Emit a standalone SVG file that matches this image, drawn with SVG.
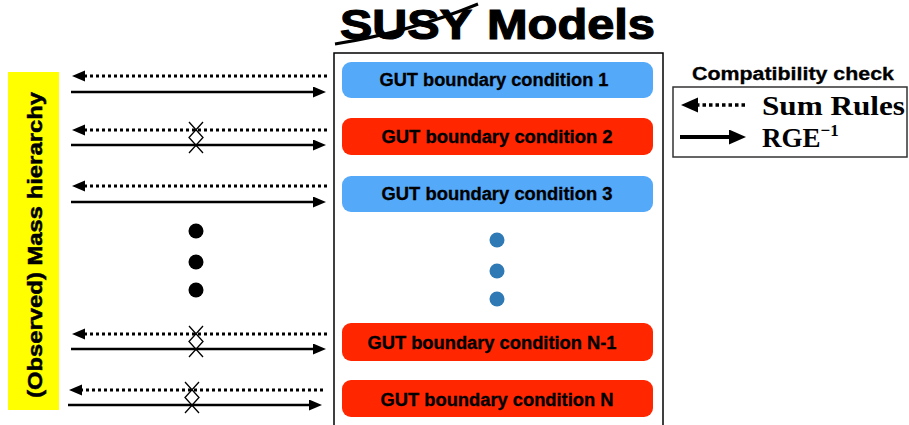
<svg xmlns="http://www.w3.org/2000/svg" width="909" height="425" viewBox="0 0 909 425">
<style>
.node-b{fill:#55A9F9;}
.node-r{fill:#FF2600;}
.lbl{font-family:"Liberation Sans",Arial,sans-serif;font-weight:bold;font-size:18px;fill:#000;text-anchor:middle;stroke:#000;stroke-width:0.3;}
.dot{stroke:#000;stroke-width:3;stroke-dasharray:3 3;fill:none;}
.sol{stroke:#000;stroke-width:2.5;fill:none;}
.cross{stroke:#000;stroke-width:1.3;fill:none;}
.serif{font-family:"Liberation Serif","Times New Roman",serif;font-weight:bold;fill:#000;}
.heavy{font-family:"Liberation Sans",Arial,sans-serif;font-weight:bold;fill:#000;stroke:#000;}
</style>
<defs>
<marker id="ah" markerUnits="userSpaceOnUse" markerWidth="14" markerHeight="12" refX="4" refY="5.5" orient="auto" viewBox="0 0 14 12">
<path d="M0,0 L13,5.5 L0,11 z" fill="#000"/>
</marker>
<marker id="ahL" markerUnits="userSpaceOnUse" markerWidth="18" markerHeight="16" refX="5" refY="7.5" orient="auto" viewBox="0 0 18 16">
<path d="M0,0 L17,7.5 L0,15 z" fill="#000"/>
</marker>
</defs>
<rect width="909" height="425" fill="#fff"/>

<g id="title">
<text class="heavy" x="340" y="39" font-size="42" stroke-width="1.2" textLength="132" lengthAdjust="spacingAndGlyphs">SUSY</text>
<text class="heavy" x="487" y="39" font-size="42" stroke-width="1.2" textLength="168" lengthAdjust="spacingAndGlyphs">Models</text>
<path d="M335,44 Q410,32 478,4" stroke="#000" stroke-width="3" fill="none"/>
</g>

<g id="models-box">
<rect x="334" y="53" width="329" height="390" fill="none" stroke="#000" stroke-width="1.5"/>
</g>

<g id="mass-hierarchy">
<rect x="8" y="72" width="51" height="338" fill="#FFFF00"/>
<text class="heavy" transform="translate(42,245) rotate(-90)" font-size="21" stroke-width="0.5" text-anchor="middle" textLength="306" lengthAdjust="spacingAndGlyphs">(Observed) Mass hierarchy</text>
</g>

<g id="node1"><rect class="node-b" x="342" y="62" width="311" height="36" rx="9"/><text class="lbl" x="494" y="86" textLength="229" lengthAdjust="spacingAndGlyphs">GUT boundary condition 1</text></g>
<g id="node2"><rect class="node-r" x="342" y="118" width="311" height="37" rx="9"/><text class="lbl" x="497" y="143" textLength="231" lengthAdjust="spacingAndGlyphs">GUT boundary condition 2</text></g>
<g id="node3"><rect class="node-b" x="342" y="176" width="311" height="36" rx="9"/><text class="lbl" x="497" y="200" textLength="231" lengthAdjust="spacingAndGlyphs">GUT boundary condition 3</text></g>
<g id="nodeN-1"><rect class="node-r" x="342" y="323" width="311" height="38" rx="9"/><text class="lbl" x="492" y="349" textLength="249" lengthAdjust="spacingAndGlyphs">GUT boundary condition N-1</text></g>
<g id="nodeN"><rect class="node-r" x="342" y="380" width="311" height="37" rx="9"/><text class="lbl" x="497" y="406" textLength="233" lengthAdjust="spacingAndGlyphs">GUT boundary condition N</text></g>

<g id="ellipsis-left" fill="#000">
<circle cx="196" cy="231" r="7.5"/><circle cx="196" cy="262" r="7.5"/><circle cx="196" cy="290" r="7.5"/>
</g>
<g id="ellipsis-right" fill="#2F7AB5">
<circle cx="497" cy="240" r="7.5"/><circle cx="497" cy="271" r="7.5"/><circle cx="497" cy="299" r="7.5"/>
</g>

<g id="connectors">
<path class="dot" d="M327,76 L81,76" marker-end="url(#ah)"/>
<path class="sol" d="M71,92 L317,92" marker-end="url(#ah)"/>
<path class="dot" d="M327,130 L81,130" marker-end="url(#ah)"/>
<path class="sol" d="M71,145 L317,145" marker-end="url(#ah)"/>
<path class="dot" d="M327,186 L81,186" marker-end="url(#ah)"/>
<path class="sol" d="M71,202 L317,202" marker-end="url(#ah)"/>
<path class="dot" d="M327,334 L81,334" marker-end="url(#ah)"/>
<path class="sol" d="M71,349 L317,349" marker-end="url(#ah)"/>
<path class="dot" d="M323,390 L78,390" marker-end="url(#ah)"/>
<path class="sol" d="M68,405 L313,405" marker-end="url(#ah)"/>
<path class="cross" d="M189,122 L203,137.5 L189,153 M203,122 L189,137.5 L203,153"/>
<path class="cross" d="M189,326 L203,341.5 L189,357 M203,326 L189,341.5 L203,357"/>
<path class="cross" d="M185,382 L199,397.5 L185,413 M199,382 L185,397.5 L199,413"/>
</g>

<g id="legend">
<text class="heavy" x="793" y="80" font-size="18" stroke-width="0.3" text-anchor="middle" textLength="202" lengthAdjust="spacingAndGlyphs">Compatibility check</text>
<rect x="673" y="87" width="234" height="70" fill="none" stroke="#333" stroke-width="1.5"/>
<path d="M745,105 L693,105" stroke="#000" stroke-width="3.5" stroke-dasharray="3.5 3" fill="none" marker-end="url(#ahL)"/>
<path d="M680,137 L734,137" stroke="#000" stroke-width="4" fill="none" marker-end="url(#ahL)"/>
<text class="serif" x="762" y="115" font-size="27" textLength="143" lengthAdjust="spacingAndGlyphs">Sum Rules</text>
<text class="serif" x="762" y="147" font-size="27">RGE<tspan font-size="17" dy="-11">−1</tspan></text>
</g>
</svg>
